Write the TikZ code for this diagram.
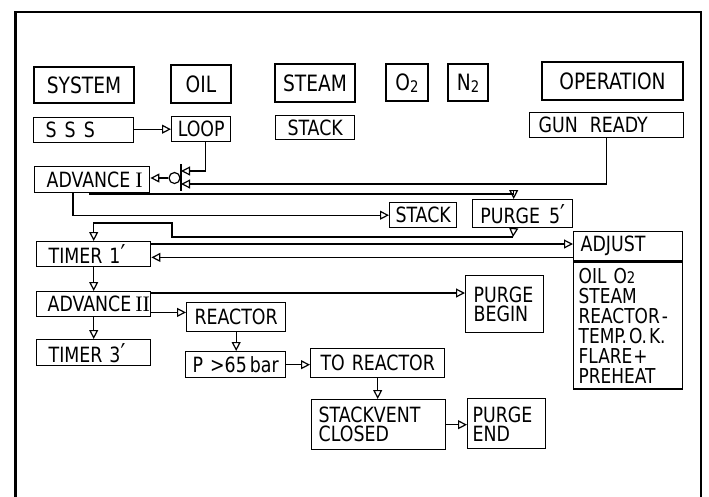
\documentclass[tikz,border=0pt]{standalone}
\usepackage{fontspec}
\setmainfont[FakeStretch=0.92]{DejaVu Sans Condensed}
\newfontfamily\romfont[Scale=1.05]{Liberation Serif}
\usetikzlibrary{arrows.meta}
\newcommand\subtwo{\raisebox{-0.1em}[0pt][0pt]{\fontsize{16}{16}\selectfont 2}}
\newcommand\rnum[1]{{\romfont #1}}
\newcommand\prm{{\fontsize{26}{26}\selectfont ′}}

\begin{document}
\begin{tikzpicture}[x=1pt,y=-1pt,line width=1.2pt,>={Triangle[open,length=9pt,width=9pt]},
  box/.style={draw,line width=1.4pt,anchor=north west,inner sep=0pt,font=\fontsize{21}{19}\selectfont},
  head/.style={box,line width=2pt,font=\fontsize{22.5}{22}\selectfont},
  lbox/.style={box,align=left,inner xsep=7pt}]
\useasboundingbox (0,0) rectangle (709,496);
% frame
\draw[line width=3pt] (15,497) -- (15,12);
\draw[line width=2pt] (14,12) -- (701,12) -- (701,497);

% top row
\node[head,minimum width=100pt,minimum height=36pt] (sys) at (33,66) {SYSTEM};
\node[head,minimum width=60pt,minimum height=38pt] (oil) at (170,64) {OIL};
\node[head,minimum width=80pt,minimum height=38pt] (steam) at (274,63) {STEAM};
\node[head,minimum width=42pt,minimum height=37pt] (otwo) at (385,63) {O\subtwo};
\node[head,minimum width=40pt,minimum height=37pt] (ntwo) at (447,63) {N\subtwo};
\node[head,minimum width=141pt,minimum height=38pt] (oper) at (541,61) {OPERATION};

% second row
\node[lbox,inner xsep=12pt,text width=76pt,minimum height=25pt] (sss) at (33,117) {S\kern8pt S\kern8pt S};
\node[box,minimum width=59pt,minimum height=25pt] (loop) at (171,116) {LOOP};
\node[box,minimum width=79pt,minimum height=24pt] (stacka) at (275,115) {STACK};
\node[lbox,inner xsep=9pt,text width=136pt,minimum height=25pt] (gun) at (529,112) {GUN\kern12pt READY};

% sequence
\node[lbox,inner xsep=12pt,text width=91pt,minimum height=26pt] (adv1) at (34,166) {ADVANCE\kern5pt\rnum{I}};
\node[box,minimum width=67pt,minimum height=25pt] (stackb) at (389,202) {STACK};
\node[box,minimum width=100pt,minimum height=28pt] (purge) at (472,199) {PURGE\kern9pt 5\prm};
\node[lbox,inner xsep=12pt,text width=90pt,minimum height=25pt] (timer1) at (36,241) {TIMER\kern7pt 1\prm};
\node[lbox,text width=95pt,minimum height=29pt] (adjust) at (573,231) {ADJUST};
\node[lbox,inner xsep=5pt,text width=99pt,minimum height=127pt,font=\fontsize{20.5}{20}\selectfont] (adjbody) at (adjust.south west)
  {OIL\kern7pt O{\fontsize{16}{16}\selectfont 2}\\STEAM\\REACTOR\kern2pt -\\TEMP.\kern2pt O.\kern2pt K.\\FLARE\kern1pt +\\PREHEAT};
\node[lbox,inner xsep=11pt,text width=92pt,minimum height=25pt] (adv2) at (36,291) {ADVANCE\kern4pt\rnum{II}};
\node[lbox,inner xsep=8pt,text width=62pt,minimum height=57pt] (pbegin) at (465,275) {PURGE\\BEGIN};
\node[lbox,inner xsep=12pt,text width=90pt,minimum height=26pt] (timer3) at (36,339) {TIMER\kern7pt 3\prm};
\node[box,minimum width=99pt,minimum height=29pt] (reactor) at (186,302) {REACTOR};
\node[box,minimum width=100pt,minimum height=26pt] (pbar) at (185,351) {P\kern7pt >65\kern3pt bar};
\node[box,minimum width=134pt,minimum height=29pt] (toreac) at (310,348) {TO\kern7pt REACTOR};
\node[lbox,text width=120pt,minimum height=50pt] (stvent) at (311,399) {STACKVENT\\CLOSED};
\node[lbox,inner xsep=5pt,text width=68pt,minimum height=50pt] (pend) at (467,398) {PURGE\\END};

% gate in front of advance I
\coordinate (gtop) at (181,164);
\coordinate (gbot) at (181,191);
\coordinate (gup) at (181,171);
\coordinate (glo) at (181,184);
\draw[line width=1.6pt] (gtop) -- (gbot);
\node[circle,draw,minimum size=11pt,inner sep=0pt] (inv) at (174.5,178) {};

% bends
\coordinate (b1) at (90,194);
\coordinate (b2) at (73,214);
\coordinate (b3) at (513,237);
\coordinate (b4) at (172,223);

\draw[->] (sss.east |- loop.west) -- (loop.west);
\draw[->] ([xshift=4pt]loop.south) |- (gup);
\draw[->] (gun.south) |- (glo);
\draw[->] (inv.west) -- (inv.west -| adv1.east);
\draw[->] (adv1.south -| b1) -- (b1) -| ([xshift=-9pt]purge.north);
\draw[->] (adv1.south -| b2) |- (stackb.west);
\draw[->] ([xshift=-9pt]purge.south) -- (b3);
\draw[->] (b3) -| (b4) -| (timer1.north);
\draw[->] ([yshift=-3pt]timer1.north east) -- ([yshift=-3pt]timer1.north east -| adjust.west);
\draw[->] ([yshift=4pt]adjust.south west) -- ([yshift=4pt]adjust.south west -| timer1.east);
\draw[->] (timer1.south) -- (adv2.north);
\draw[->] ([yshift=-2pt]adv2.north east) -- ([yshift=-2pt]adv2.north east -| pbegin.west);
\draw[->] ([yshift=5pt]adv2.south east) -- ([yshift=5pt]adv2.south east -| reactor.west);
\draw[->] (adv2.south) -- (timer3.north);
\draw[->] (reactor.south) -- (reactor.south |- pbar.north);
\draw[->] (pbar.east) -- (pbar.east -| toreac.west);
\draw[->] (toreac.south) -- (toreac.south |- stvent.north);
\draw[->] (stvent.east) -- (stvent.east -| pend.west);
\end{tikzpicture}
\end{document}
